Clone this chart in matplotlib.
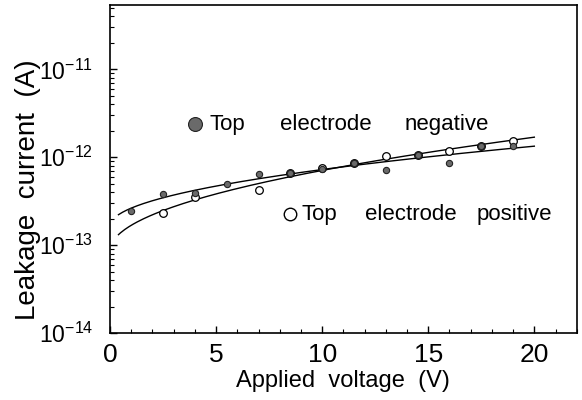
import matplotlib
matplotlib.use('Agg')
import matplotlib.pyplot as plt
import numpy as np

plt.rcParams['font.family'] = ['Liberation Sans', 'DejaVu Sans']
plt.rcParams['mathtext.fontset'] = 'custom'
plt.rcParams['mathtext.rm'] = 'Liberation Sans'
plt.rcParams['mathtext.it'] = 'Liberation Sans:italic'
plt.rcParams['mathtext.bf'] = 'Liberation Sans:bold'

# top electrode negative (filled)
v_neg = [1, 2.5, 4, 5.5, 7, 8.5, 10, 11.5, 13, 14.5, 16, 17.5, 19]
i_neg = [2.45e-13, 3.8e-13, 3.9e-13, 5.0e-13, 6.4e-13, 6.6e-13, 7.4e-13,
         8.6e-13, 7.1e-13, 1.07e-12, 8.6e-13, 1.33e-12, 1.33e-12]

# top electrode positive (open)
v_pos = [2.5, 4, 7, 8.5, 10, 11.5, 13, 14.5, 16, 17.5, 19]
i_pos = [2.35e-13, 3.5e-13, 4.2e-13, 6.7e-13, 7.5e-13, 8.7e-13, 1.02e-12,
         1.05e-12, 1.17e-12, 1.36e-12, 1.55e-12]

fig = plt.figure(figsize=(5.82, 4.0), dpi=100)
ax = fig.add_axes([0.189, 0.1675, 0.802, 0.82])

# fitted curves: log10(I) linear in sqrt(V)
v_fit = np.linspace(0.4, 20, 200)
for v, i in [(v_neg, i_neg), (v_pos, i_pos)]:
    c = np.polyfit(np.sqrt(v), np.log10(i), 1)
    ax.plot(v_fit, 10 ** np.polyval(c, np.sqrt(v_fit)), color='black', lw=1.0)

ax.plot(v_pos, i_pos, 'o', ms=5.5, mfc='white', mec='black', mew=0.9)
ax.plot(v_neg, i_neg, 'o', ms=4.5, mfc='#6a6a6a', mec='#222222', mew=0.8)

ax.set_yscale('log')
ax.set_xlim(0, 22)
ax.set_ylim(1e-14, 5.4e-11)
ax.set_xticks([0, 5, 10, 15, 20])
ax.set_xticks(range(0, 23), minor=True)
ax.set_yticks([1e-14, 1e-13, 1e-12, 1e-11])
ax.set_yticklabels([r'$10^{-14}$', r'$10^{-13}$', r'$10^{-12}$', r'$10^{-11}$'])
ax.tick_params(which='both', direction='in')
ax.tick_params(axis='x', labelsize=19, pad=7)
ax.tick_params(axis='y', labelsize=16.5, pad=12)
ax.tick_params(which='major', length=5, width=1.0)
ax.tick_params(which='minor', length=3, width=0.8)
for s in ax.spines.values():
    s.set_linewidth(1.2)

ax.set_xlabel('Applied  voltage  (V)', fontsize=17, labelpad=2)
fig.text(0.048, 0.525, 'Leakage  current  (A)', fontsize=20, rotation=90,
         ha='center', va='center')

# annotations
ax.plot([4.0], [2.37e-12], 'o', ms=10, mfc='#6a6a6a', mec='#222222', mew=0.8)
for x, w in [(4.71, 'Top'), (8.0, 'electrode'), (13.88, 'negative')]:
    ax.text(x, 2.37e-12, w, fontsize=16, ha='left', va='center')
ax.plot([8.47], [2.25e-13], 'o', ms=9, mfc='white', mec='black', mew=1.0)
for x, w in [(9.04, 'Top'), (12.0, 'electrode'), (17.27, 'positive')]:
    ax.text(x, 2.25e-13, w, fontsize=16, ha='left', va='center')

plt.savefig('out.png', dpi=100)
plt.close()
